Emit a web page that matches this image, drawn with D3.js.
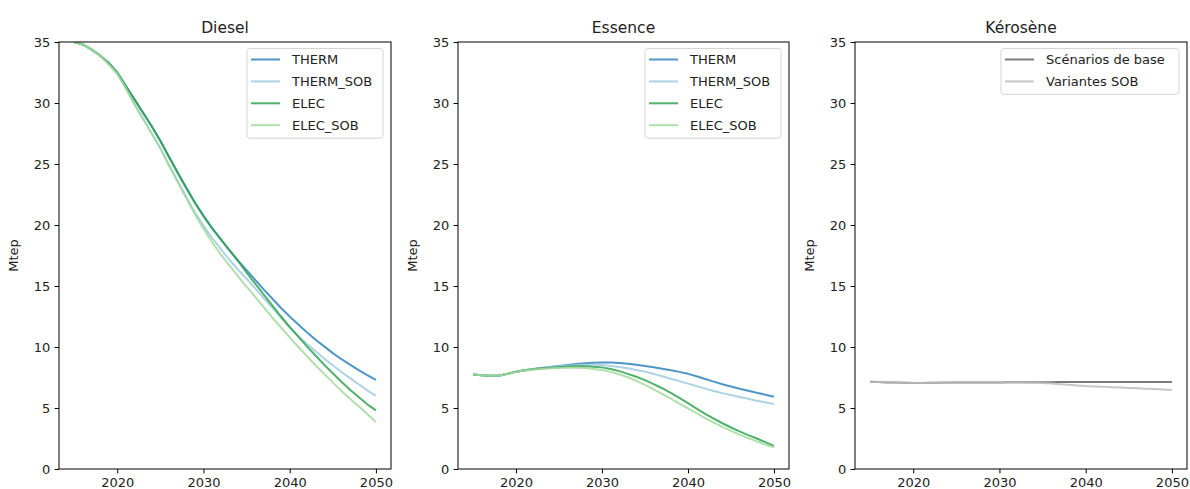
<!DOCTYPE html>
<html>
<head>
<meta charset="utf-8">
<script src="https://cdn.jsdelivr.net/npm/d3@7"></script>
<style>
  html, body { margin: 0; padding: 0; background: #fff; }
  svg { display: block; font-family: "DejaVu Sans", sans-serif; }
</style>
</head>
<body>
<svg id="chart" width="1190" height="489"></svg>
<script>
// ---------- DATA ----------
const years = d3.range(2015, 2051);

const dieselTherm = [35.0, 34.8, 34.4, 33.9, 33.3, 32.5, 31.4, 30.3, 29.2, 28.1,
  26.9, 25.6, 24.3, 23.05, 21.85, 20.75, 19.75, 18.85, 17.95, 17.1,
  16.3, 15.5, 14.7, 13.95, 13.2, 12.5, 11.85, 11.2, 10.6, 10.05,
  9.5, 9.0, 8.55, 8.1, 7.7, 7.3];
const dieselThermSob = [35.0, 34.8, 34.4, 33.9, 33.2, 32.4, 31.2, 29.9, 28.7, 27.5,
  26.3, 24.9, 23.6, 22.3, 21.05, 19.95, 18.95, 18.05, 17.15, 16.35,
  15.6, 14.8, 14.0, 13.2, 12.4, 11.6, 10.9, 10.25, 9.65, 9.05,
  8.5, 7.95, 7.45, 6.95, 6.45, 6.0];
const dieselElec = [35.0, 34.8, 34.4, 33.9, 33.3, 32.5, 31.4, 30.3, 29.2, 28.1,
  26.9, 25.6, 24.3, 23.05, 21.85, 20.75, 19.75, 18.85, 17.95, 17.05,
  16.1, 15.2, 14.3, 13.4, 12.5, 11.65, 10.85, 10.05, 9.3, 8.55,
  7.85, 7.15, 6.5, 5.9, 5.3, 4.8];
const dieselElecSob = [35.0, 34.8, 34.4, 33.9, 33.2, 32.4, 31.2, 29.9, 28.7, 27.5,
  26.3, 24.9, 23.55, 22.2, 20.9, 19.7, 18.6, 17.6, 16.7, 15.8,
  14.95, 14.1, 13.25, 12.4, 11.6, 10.8, 10.0, 9.25, 8.5, 7.8,
  7.1, 6.4, 5.75, 5.15, 4.5, 3.85];

const essenceTherm = [7.75, 7.68, 7.65, 7.65, 7.8, 7.98, 8.1, 8.2, 8.28, 8.36,
  8.45, 8.52, 8.6, 8.66, 8.7, 8.72, 8.72, 8.68, 8.62, 8.54,
  8.44, 8.34, 8.22, 8.1, 7.96, 7.8, 7.6, 7.38, 7.16, 6.95,
  6.76, 6.58, 6.41, 6.25, 6.09, 5.93];
const essenceThermSob = [7.75, 7.68, 7.65, 7.65, 7.8, 7.98, 8.1, 8.2, 8.28, 8.35,
  8.42, 8.48, 8.52, 8.54, 8.54, 8.52, 8.45, 8.36, 8.25, 8.12,
  7.98, 7.8, 7.6, 7.4, 7.2, 7.0, 6.79, 6.59, 6.4, 6.22,
  6.06, 5.9, 5.75, 5.6, 5.46, 5.33];
const essenceElec = [7.75, 7.68, 7.65, 7.65, 7.8, 7.98, 8.1, 8.18, 8.25, 8.3,
  8.35, 8.4, 8.42, 8.42, 8.39, 8.33, 8.2, 8.02, 7.8, 7.56,
  7.28, 6.96, 6.62, 6.24, 5.83, 5.4, 4.95, 4.52, 4.12, 3.75,
  3.4, 3.08, 2.78, 2.5, 2.2, 1.9];
const essenceElecSob = [7.75, 7.68, 7.65, 7.65, 7.8, 7.98, 8.08, 8.15, 8.2, 8.25,
  8.28, 8.3, 8.3, 8.27, 8.2, 8.11, 7.96, 7.76, 7.52, 7.23,
  6.9, 6.53, 6.15, 5.76, 5.36, 4.97, 4.57, 4.18, 3.8, 3.45,
  3.12, 2.82, 2.53, 2.26, 2.0, 1.78];

const keroseneBase = [7.15, 7.13, 7.1, 7.08, 7.06, 7.05, 7.05, 7.06, 7.07, 7.08,
  7.08, 7.09, 7.09, 7.1, 7.1, 7.1, 7.11, 7.11, 7.11, 7.12,
  7.12, 7.12, 7.13, 7.13, 7.13, 7.14, 7.14, 7.14, 7.14, 7.14,
  7.14, 7.14, 7.14, 7.14, 7.14, 7.14];
const keroseneSob = [7.15, 7.13, 7.1, 7.08, 7.06, 7.05, 7.05, 7.06, 7.07, 7.08,
  7.08, 7.09, 7.09, 7.1, 7.1, 7.1, 7.1, 7.1, 7.09, 7.07,
  7.04, 7.0, 6.95, 6.9, 6.85, 6.8, 6.77, 6.74, 6.71, 6.68,
  6.64, 6.61, 6.58, 6.55, 6.52, 6.48];

const panelTitles = ["Diesel", "Essence", "Kérosène"];
const xTickValues = [2020, 2030, 2040, 2050];
const yTickValues = [0, 5, 10, 15, 20, 25, 30, 35];
const yLabel = "Mtep";

const scenarioNames = ["THERM", "THERM_SOB", "ELEC", "ELEC_SOB"];
const scenarioColors = ["#3182bd", "#9ecae1", "#31a354", "#a1d99b"];
const keroseneNames = ["Scénarios de base", "Variantes SOB"];
const keroseneColors = ["#636363", "#bdbdbd"];

// ---------- LAYOUT ----------
const panels = [
  { left: 59, right: 391, title: panelTitles[0], names: scenarioNames, colors: scenarioColors,
    series: [dieselTherm, dieselThermSob, dieselElec, dieselElecSob], legendW: 136 },
  { left: 458, right: 789, title: panelTitles[1], names: scenarioNames, colors: scenarioColors,
    series: [essenceTherm, essenceThermSob, essenceElec, essenceElecSob], legendW: 136 },
  { left: 855, right: 1187, title: panelTitles[2], names: keroseneNames, colors: keroseneColors,
    series: [keroseneBase, keroseneSob], legendW: 178 }
];
const plotTop = 42, plotBottom = 469;
const fontSize = 13;
const tickLen = 4.4, tickPad = 4.4;

const svg = d3.select("#chart");

panels.forEach((p, pi) => {
  const x = d3.scaleLinear().domain([2013.25, 2051.75]).range([p.left, p.right]);
  const y = d3.scaleLinear().domain([0, 35]).range([plotBottom, plotTop]);
  const g = svg.append("g");

  const clipId = "clip" + pi;
  g.append("clipPath").attr("id", clipId).append("rect")
    .attr("x", p.left).attr("y", plotTop).attr("width", p.right - p.left).attr("height", plotBottom - plotTop);

  // lines
  const line = d3.line().x((d, i) => x(years[i])).y(d => y(d));
  const lg = g.append("g").attr("clip-path", `url(#${clipId})`);
  p.series.forEach((s, si) => {
    lg.append("path").datum(s)
      .attr("d", line)
      .attr("fill", "none")
      .attr("stroke", p.colors[si])
      .attr("stroke-opacity", 0.85)
      .attr("stroke-width", 2)
      .attr("stroke-linejoin", "round")
      .attr("stroke-linecap", "butt");
  });

  // axes
  const xAxis = d3.axisBottom(x).tickValues(xTickValues).tickFormat(d3.format("d"))
    .tickSize(tickLen).tickPadding(tickPad).tickSizeOuter(0);
  const yAxis = d3.axisLeft(y).tickValues(yTickValues).tickFormat(d3.format("d"))
    .tickSize(tickLen).tickPadding(tickPad).tickSizeOuter(0);

  const gx = g.append("g").attr("transform", `translate(0,${plotBottom})`).call(xAxis);
  const gy = g.append("g").attr("transform", `translate(${p.left},0)`).call(yAxis);
  [gx, gy].forEach(ax => {
    ax.select(".domain").remove();
    ax.selectAll(".tick line").attr("stroke", "#000").attr("stroke-width", 1);
    ax.selectAll(".tick text").attr("fill", "#222").style("font-size", fontSize + "px")
      .style("font-family", "DejaVu Sans");
  });

  // frame
  g.append("rect").attr("x", p.left).attr("y", plotTop)
    .attr("width", p.right - p.left).attr("height", plotBottom - plotTop)
    .attr("fill", "none").attr("stroke", "#000").attr("stroke-width", 1);

  // title
  g.append("text").attr("x", (p.left + p.right) / 2).attr("y", 32.5)
    .attr("text-anchor", "middle").attr("fill", "#222")
    .style("font-size", "15.5px").text(p.title);

  // y label
  g.append("text")
    .attr("transform", `translate(${p.left - 41.5},${(plotTop + plotBottom) / 2}) rotate(-90)`)
    .attr("text-anchor", "middle").attr("fill", "#222")
    .style("font-size", fontSize + "px").text(yLabel);

  // legend
  const lx = p.right - 8 - p.legendW;
  const ly = 48.5;
  const rowH = 21.9;
  const lh = 12 + rowH * (p.names.length - 1) + 12;
  const leg = g.append("g");
  leg.append("rect").attr("x", lx).attr("y", ly).attr("width", p.legendW).attr("height", lh)
    .attr("rx", 3).attr("fill", "#fff").attr("fill-opacity", 0.8)
    .attr("stroke", "#d5d5d5").attr("stroke-width", 1);
  p.names.forEach((n, i) => {
    const cy = ly + 11 + i * rowH;
    leg.append("line").attr("x1", lx + 4).attr("x2", lx + 33)
      .attr("y1", cy).attr("y2", cy)
      .attr("stroke", p.colors[i]).attr("stroke-opacity", 0.85).attr("stroke-width", 2);
    leg.append("text").attr("x", lx + 45).attr("y", cy).attr("dy", "0.36em")
      .attr("fill", "#222").style("font-size", fontSize + "px").text(n);
  });
});
</script>
</body>
</html>
